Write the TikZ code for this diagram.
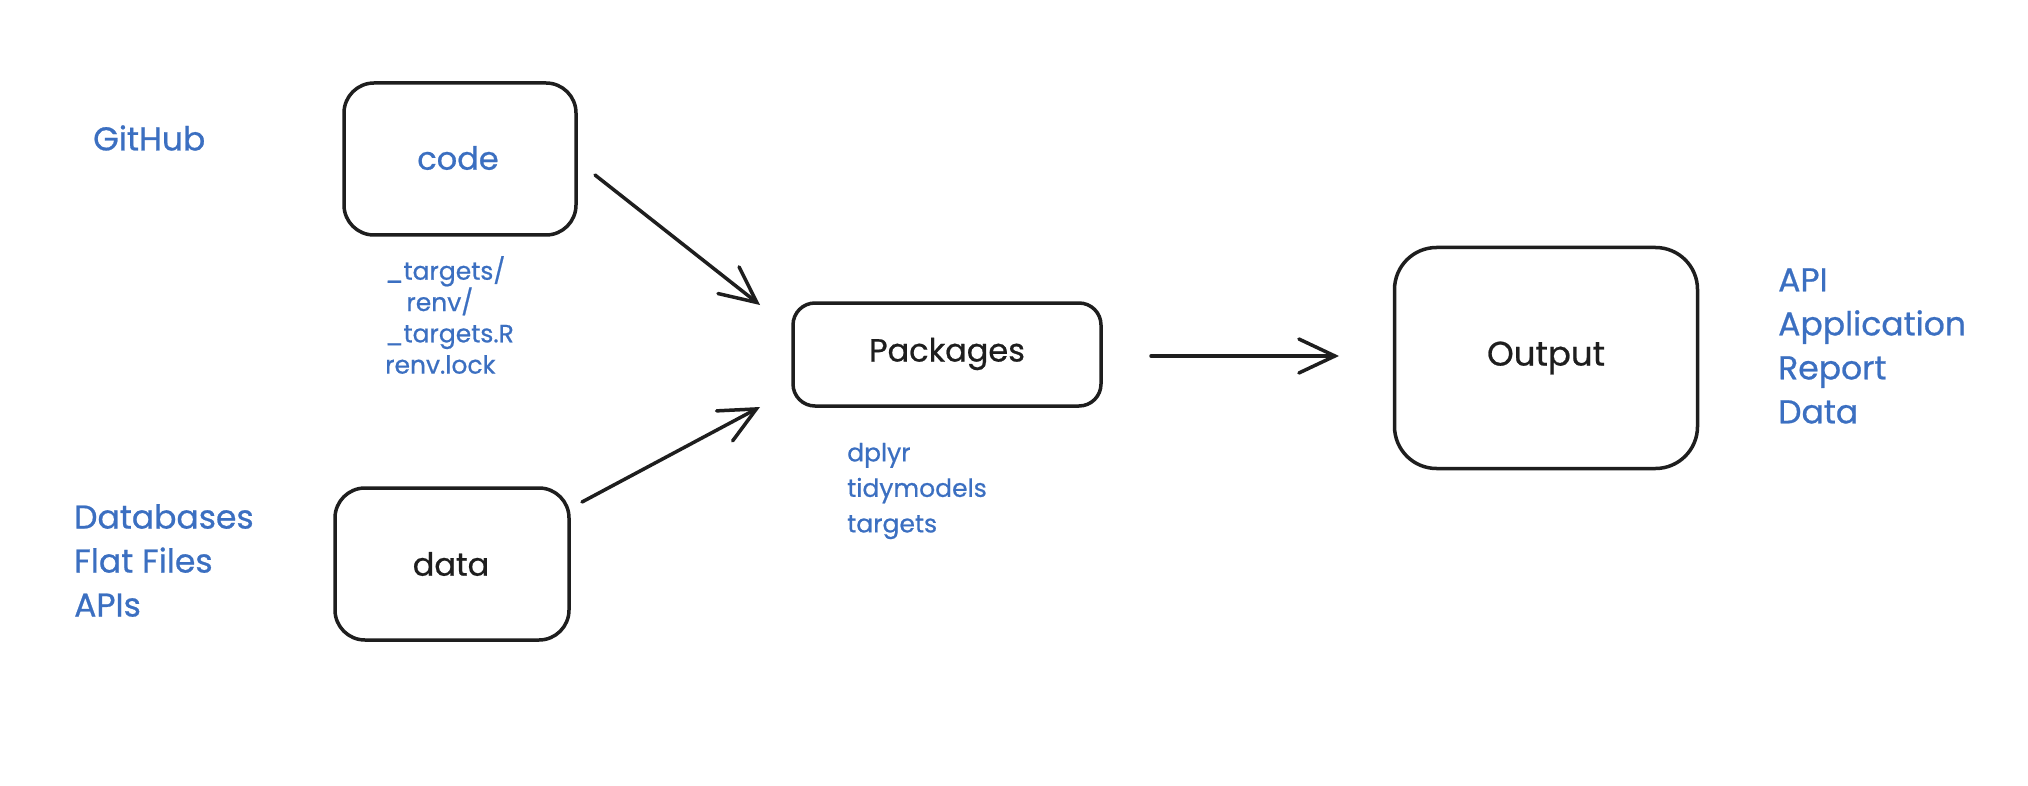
\documentclass[tikz,border=0pt]{standalone}
\usepackage{fontspec}
\setmainfont{Poppins}[FakeBold=0.7]
\usetikzlibrary{arrows.meta}
\definecolor{inkblue}{HTML}{3B6FC1}
\definecolor{ink}{HTML}{1E1E1E}
\tikzset{
  box/.style={draw=ink, line width=3.5pt, rounded corners=#1, fill=white},
  box/.default=28pt,
  boxlabel/.style={text=ink, font=\fontsize{32}{38}\selectfont},
  biglist/.style={text=inkblue, anchor=west, align=left, inner sep=0pt, font=\fontsize{33}{44}\selectfont},
  smalllist/.style={text=inkblue, anchor=west, align=left, inner sep=0pt, font=\fontsize{25}{#1}\selectfont},
  flow/.style={draw=ink, line width=3.5pt, line cap=round, -{Straight Barb[length=36pt, width=34pt, line cap=round]}}
}
\begin{document}
\begin{tikzpicture}[x=1pt, y=-1pt]
\useasboundingbox[fill=white] (0,0) rectangle (2028,786);

% boxes
\node[box=30pt, minimum width=232pt, minimum height=152pt] (code) at (460,159) {};
\node[boxlabel, text=inkblue] (codet) at (458,158) {code};
\node[box=30pt, minimum width=234pt, minimum height=152pt] (data) at (452,564) {};
\node[boxlabel] (datat) at (451,564) {data};
\node[box=22pt, minimum width=308pt, minimum height=103pt] (pkg) at (947,354.5) {};
\node[boxlabel] (pkgt) at (947,354) {Packages};
\node[box=42pt, minimum width=303pt, minimum height=221pt] (out) at (1546,358) {};
\node[boxlabel, font=\fontsize{34}{40}\selectfont] (outt) at (1546,358) {Output};

% blue labels
\node[biglist] (github) at (93,138) {GitHub};
\node[biglist] (sources) at (74,560.5) {Databases\\Flat Files\\APIs};
\node[biglist] (outputs) at (1778,346) {API\\Application\\Report\\Data};
\node[smalllist=31.3] (files) at (385,315) {\_targets/\\\hspace*{0.85em}renv/\\\_targets.R\\renv.lock};
\node[smalllist=35.5] (pkgs) at (847,491) {dplyr\\tidymodels\\targets};

% arrows
\coordinate (a1s) at (595,175);
\coordinate (a1e) at (760,305);
\coordinate (a2s) at (582,502);
\coordinate (a2e) at (760,407);
\coordinate (a3s) at (1151,356);
\coordinate (a3e) at (1339,356);
\draw[flow] (a1s) -- (a1e);
\draw[flow] (a2s) -- (a2e);
\draw[flow] (a3s) -- (a3e);
\end{tikzpicture}
\end{document}
